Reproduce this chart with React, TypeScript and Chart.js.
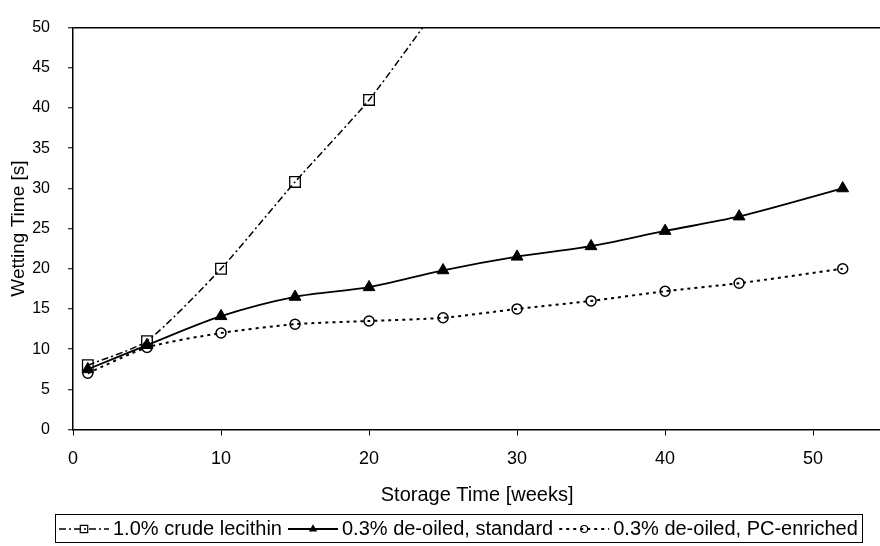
import React, { useEffect, useRef } from 'react';
import { Chart, registerables } from 'chart.js';

Chart.register(...registerables);

const FONT = '"Liberation Sans", Arial, Helvetica, sans-serif';

const xTickValues = [0, 10, 20, 30, 40, 50];
const crudeWeeks = [1, 5, 10, 15, 20, 25];
const crudeValues = [8.0, 11.0, 20.0, 30.8, 41.0, 53.5];
const deoiledWeeks = [1, 5, 10, 15, 20, 25, 30, 35, 40, 45, 52];
const standardValues = [7.5, 10.5, 14.1, 16.5, 17.7, 19.8, 21.5, 22.8, 24.7, 26.5, 30.0];
const pcEnrichedValues = [7.0, 10.2, 12.0, 13.1, 13.5, 13.9, 15.0, 16.0, 17.2, 18.2, 20.0];
const seriesLabels = ['1.0% crude lecithin', '0.3% de-oiled, standard', '0.3% de-oiled, PC-enriched'];
const xTitle = 'Storage Time [weeks]';
const yTitle = 'Wetting Time [s]';

const VIEW_W = 880;
const CANVAS_W = 890;
const CANVAS_H = 546;

function drawMarker(ctx: CanvasRenderingContext2D, style: string, x: number, y: number, r: number) {
  ctx.save();
  ctx.setLineDash([]);
  ctx.strokeStyle = '#000';
  ctx.fillStyle = '#000';
  ctx.lineWidth = 1.2;
  ctx.beginPath();
  if (style === 'rect') {
    const s = r * Math.SQRT1_2;
    ctx.rect(x - s, y - s, 2 * s, 2 * s);
    ctx.stroke();
  } else if (style === 'triangle') {
    for (let i = 0; i < 3; i++) {
      const a = (i * 2 * Math.PI) / 3;
      const px = x + Math.sin(a) * r;
      const py = y - Math.cos(a) * r;
      if (i === 0) ctx.moveTo(px, py);
      else ctx.lineTo(px, py);
    }
    ctx.closePath();
    ctx.fill();
  } else {
    ctx.arc(x, y, r, 0, Math.PI * 2);
    ctx.stroke();
  }
  ctx.restore();
}

const boxLegend = {
  id: 'boxLegend',
  afterDraw(chart: any) {
    const ctx: CanvasRenderingContext2D = chart.ctx;
    const ds = chart.data.datasets;
    ctx.save();
    ctx.font = '20px ' + FONT;
    ctx.fillStyle = '#000';
    ctx.textBaseline = 'middle';
    const sampleW = 50;
    const gap = 4;
    const itemGap = 6;
    const padX = 4;
    const widths = ds.map((d: any) => sampleW + gap + ctx.measureText(d.label).width);
    const total = widths.reduce((a: number, b: number) => a + b, 0) + itemGap * (ds.length - 1) + padX * 2;
    const cx = 458;
    const x0 = Math.round(cx - total / 2);
    const top = 514;
    const h = 28;
    ctx.strokeStyle = '#000';
    ctx.lineWidth = 1;
    ctx.strokeRect(x0 + 0.5, top + 0.5, Math.round(total), h);
    let x = x0 + padX;
    const cy = top + h / 2 + 1;
    ds.forEach((d: any, i: number) => {
      ctx.save();
      ctx.strokeStyle = '#000';
      ctx.setLineDash(d.borderDash || []);
      ctx.lineWidth = d.borderWidth;
      ctx.beginPath();
      ctx.moveTo(x, cy);
      ctx.lineTo(x + sampleW, cy);
      ctx.stroke();
      ctx.restore();
      drawMarker(ctx, d.pointStyle, x + sampleW / 2, cy, d.pointRadius * 0.7);
      ctx.fillText(d.label, x + sampleW + gap, cy);
      x += widths[i] + itemGap;
    });
    ctx.restore();
  },
};

export default function App() {
  const ref = useRef<HTMLCanvasElement | null>(null);

  useEffect(() => {
    if (!ref.current) return;
    Chart.defaults.font.family = FONT;
    const chart = new Chart(ref.current, {
      type: 'line',
      data: {
        datasets: [
          {
            label: seriesLabels[0],
            data: crudeWeeks.map((w, i) => ({ x: w, y: crudeValues[i] })),
            borderColor: '#000',
            borderWidth: 1.5,
            borderDash: [7, 3, 2, 3],
            pointStyle: 'rect',
            pointRadius: 7.5,
            pointBorderWidth: 1.3,
            pointBorderColor: '#000',
            pointBackgroundColor: 'rgba(0,0,0,0)',
            tension: 0.2,
            fill: false,
          },
          {
            label: seriesLabels[1],
            data: deoiledWeeks.map((w, i) => ({ x: w, y: standardValues[i] })),
            borderColor: '#000',
            borderWidth: 1.8,
            borderDash: [],
            pointStyle: 'triangle',
            pointRadius: 6.8,
            pointBorderWidth: 1,
            pointBorderColor: '#000',
            pointBackgroundColor: '#000',
            tension: 0.3,
            fill: false,
          },
          {
            label: seriesLabels[2],
            data: deoiledWeeks.map((w, i) => ({ x: w, y: pcEnrichedValues[i] })),
            borderColor: '#000',
            borderWidth: 2,
            borderDash: [3, 4],
            pointStyle: 'circle',
            pointRadius: 5,
            pointBorderWidth: 1.5,
            pointBorderColor: '#000',
            pointBackgroundColor: 'rgba(0,0,0,0)',
            tension: 0.25,
            fill: false,
          },
        ],
      },
      options: {
        responsive: false,
        animation: false,
        events: [],
        layout: { padding: { top: 16, right: 0, bottom: 38, left: 0 } },
        plugins: { legend: { display: false }, tooltip: { enabled: false } },
        scales: {
          x: {
            type: 'linear',
            min: 0,
            max: 54.6,
            afterBuildTicks: (s: any) => {
              s.ticks = xTickValues.map((v) => ({ value: v }));
            },
            afterFit: (s: any) => {
              s.height = 78.5;
            },
            ticks: { color: '#000', font: { size: 18 }, padding: 13, maxRotation: 0, autoSkip: false },
            grid: { drawOnChartArea: false, drawTicks: true, tickLength: 6, tickColor: '#000', tickWidth: 1 },
            border: { display: true, color: '#000', width: 1.5 },
            title: { display: true, text: xTitle, color: '#000', font: { size: 20 }, padding: { top: 0, bottom: 1 } },
          },
          y: {
            type: 'linear',
            min: 0,
            max: 50,
            afterFit: (s: any) => {
              s.width = 73;
            },
            ticks: { stepSize: 5, color: '#000', font: { size: 16 }, padding: 18 },
            grid: {
              color: (c: any) => (c.tick && c.tick.value === 50 ? '#000' : 'rgba(0,0,0,0)'),
              lineWidth: 1.5,
              tickColor: '#000',
              tickLength: 5,
              tickWidth: 1,
            },
            border: { display: true, color: '#000', width: 1.5 },
            title: { display: true, text: yTitle, color: '#000', font: { size: 19 }, padding: { top: 7, bottom: 0 } },
          },
        },
      },
      plugins: [boxLegend],
    } as any);
    return () => chart.destroy();
  }, []);

  return (
    <div style={{ position: 'absolute', left: 0, top: 0, width: VIEW_W, height: CANVAS_H, background: '#fff', overflow: 'hidden' }}>
      <canvas ref={ref} width={CANVAS_W} height={CANVAS_H} style={{ width: CANVAS_W, height: CANVAS_H, display: 'block' }} />
    </div>
  );
}
